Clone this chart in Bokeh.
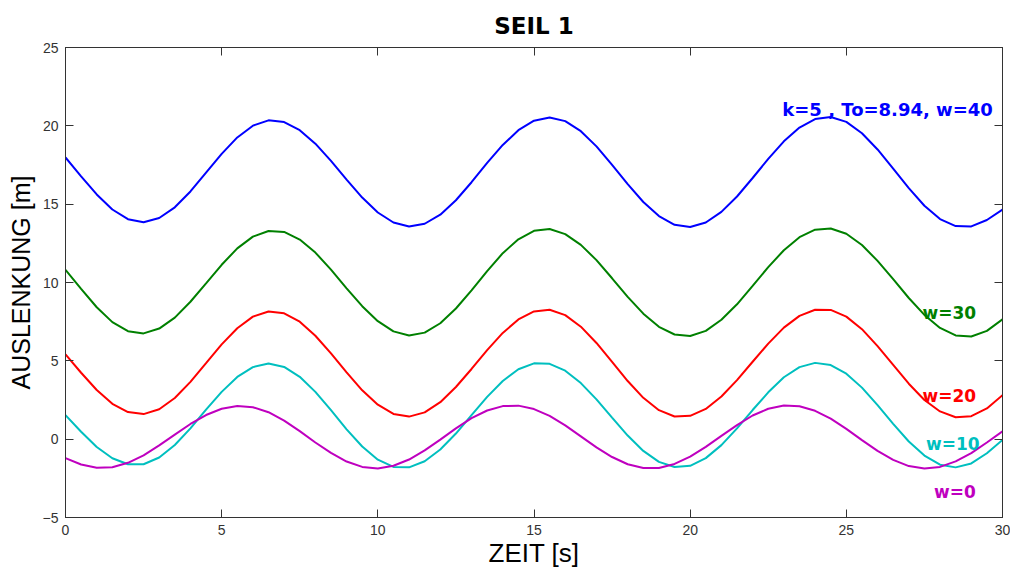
from bokeh.plotting import figure
from bokeh.models import Range1d, LinearAxis, FixedTicker
from bokeh.embed import file_html
from bokeh.resources import INLINE
from bokeh.core.properties import value

# time samples [s]
t = [0.0, 0.5, 1.0, 1.5, 2.0, 2.5, 3.0, 3.5, 4.0, 4.5, 5.0, 5.5, 6.0, 6.5, 7.0, 7.5,
     8.0, 8.5, 9.0, 9.5, 10.0, 10.5, 11.0, 11.5, 12.0, 12.5, 13.0, 13.5, 14.0, 14.5,
     15.0, 15.5, 16.0, 16.5, 17.0, 17.5, 18.0, 18.5, 19.0, 19.5, 20.0, 20.5, 21.0,
     21.5, 22.0, 22.5, 23.0, 23.5, 24.0, 24.5, 25.0, 25.5, 26.0, 26.5, 27.0, 27.5,
     28.0, 28.5, 29.0, 29.5, 30.0]

# displacement [m] per wind case
w40 = [17.98, 16.78, 15.62, 14.66, 14.04, 13.85, 14.12, 14.80, 15.81, 17.01, 18.21,
       19.26, 20.01, 20.35, 20.24, 19.72, 18.86, 17.76, 16.57, 15.42, 14.47, 13.83,
       13.57, 13.75, 14.33, 15.25, 16.40, 17.63, 18.78, 19.72, 20.33, 20.53, 20.30,
       19.66, 18.69, 17.51, 16.28, 15.14, 14.24, 13.68, 13.54, 13.83, 14.51, 15.49,
       16.67, 17.89, 19.01, 19.89, 20.43, 20.56, 20.25, 19.53, 18.49, 17.27, 16.02,
       14.90, 14.05, 13.60, 13.58, 13.99, 14.65]
w30 = [10.81, 9.59, 8.42, 7.47, 6.89, 6.75, 7.06, 7.76, 8.77, 9.94, 11.13, 12.18,
       12.93, 13.29, 13.23, 12.74, 11.91, 10.82, 9.63, 8.49, 7.53, 6.88, 6.62, 6.80,
       7.40, 8.34, 9.50, 10.73, 11.87, 12.76, 13.30, 13.41, 13.09, 12.40, 11.43, 10.27,
       9.08, 8.01, 7.17, 6.68, 6.59, 6.91, 7.62, 8.61, 9.78, 10.98, 12.06, 12.89, 13.37,
       13.45, 13.11, 12.39, 11.38, 10.21, 9.01, 7.93, 7.10, 6.62, 6.55, 6.91, 7.65]
w20 = [5.41, 4.24, 3.14, 2.26, 1.73, 1.60, 1.91, 2.63, 3.66, 4.85, 6.05, 7.08, 7.82,
       8.15, 8.03, 7.50, 6.60, 5.48, 4.26, 3.12, 2.20, 1.61, 1.44, 1.71, 2.36, 3.33,
       4.48, 5.68, 6.78, 7.64, 8.15, 8.26, 7.92, 7.18, 6.14, 4.93, 3.71, 2.64, 1.85,
       1.45, 1.49, 1.93, 2.72, 3.77, 4.94, 6.10, 7.12, 7.87, 8.26, 8.25, 7.82, 7.02,
       5.94, 4.74, 3.54, 2.50, 1.77, 1.40, 1.47, 1.96, 2.81]
w10 = [1.53, 0.47, -0.50, -1.22, -1.60, -1.60, -1.17, -0.37, 0.69, 1.88, 3.02, 3.97,
       4.60, 4.83, 4.61, 3.98, 3.02, 1.85, 0.63, -0.47, -1.31, -1.77, -1.80, -1.41,
       -0.66, 0.36, 1.53, 2.70, 3.71, 4.46, 4.84, 4.81, 4.37, 3.58, 2.54, 1.38, 0.23,
       -0.75, -1.45, -1.78, -1.70, -1.21, -0.38, 0.69, 1.86, 2.99, 3.95, 4.60, 4.87,
       4.73, 4.18, 3.29, 2.17, 0.98, -0.15, -1.05, -1.63, -1.80, -1.55, -0.90, -0.05]
w0 = [-1.21, -1.62, -1.83, -1.79, -1.51, -1.03, -0.40, 0.29, 0.97, 1.54, 1.94, 2.11,
      2.04, 1.72, 1.18, 0.51, -0.21, -0.88, -1.43, -1.77, -1.87, -1.70, -1.30, -0.72,
      -0.03, 0.69, 1.34, 1.83, 2.11, 2.14, 1.92, 1.49, 0.88, 0.18, -0.52, -1.14, -1.60,
      -1.84, -1.84, -1.58, -1.12, -0.49, 0.21, 0.90, 1.51, 1.94, 2.15, 2.10, 1.81, 1.31,
      0.66, -0.06, -0.75, -1.32, -1.72, -1.87, -1.77, -1.42, -0.89, -0.21, 0.50]

x_ticks = [0, 5, 10, 15, 20, 25, 30]
y_ticks = [-5, 0, 5, 10, 15, 20, 25]

series = [w40, w30, w20, w10, w0]
colors = ["#0000FF", "#008000", "#FF0000", "#00BFBF", "#BF00BF"]
labels = ["k=5 , To=8.94, w=40", "w=30", "w=20", "w=10", "w=0"]
label_x = [22.95, 27.44, 27.44, 27.55, 27.81]
label_y = [21.06, 8.06, 2.75, -0.32, -3.39]
label_size = ["18px", "17px", "17px", "17px", "17px"]

AX = "#333333"

p = figure(width=1010, height=570, output_backend="svg", toolbar_location=None,
           x_range=Range1d(0, 30), y_range=Range1d(-5, 25),
           min_border_left=65, min_border_right=8, min_border_top=47,
           min_border_bottom=52, title="SEIL 1")
p.background_fill_color = "white"
p.border_fill_color = "white"
p.outline_line_color = AX
p.xgrid.visible = False
p.ygrid.visible = False

p.title.align = "center"
p.title.text_font = "DejaVu Sans"
p.title.text_font_style = "bold"
p.title.text_font_size = "23px"
p.title.text_color = "black"
p.title.standoff = 18


def style_axis(ax, ticks):
    ax.ticker = FixedTicker(ticks=ticks)
    ax.major_tick_in = 8
    ax.major_tick_out = 0
    ax.minor_tick_in = 0
    ax.minor_tick_out = 0
    ax.axis_line_color = AX
    ax.major_tick_line_color = AX
    ax.axis_line_width = 1
    ax.major_label_text_font = "Liberation Sans"
    ax.major_label_text_font_size = "14px"
    ax.major_label_text_color = "#333333"
    ax.major_label_standoff = 7


def style_mirror(ax, ticks):
    # label-free mirror axis: ticks given as minor ticks only
    ax.ticker = FixedTicker(ticks=[], minor_ticks=ticks)
    ax.major_tick_in = 0
    ax.major_tick_out = 0
    ax.minor_tick_in = 8
    ax.minor_tick_out = 0
    ax.minor_tick_line_color = AX
    ax.minor_tick_line_width = 1
    ax.axis_line_color = AX
    ax.major_label_standoff = 0


style_axis(p.xaxis[0], x_ticks)
style_axis(p.yaxis[0], y_ticks)

for ax, lab in ((p.xaxis[0], "ZEIT [s]"), (p.yaxis[0], "AUSLENKUNG [m]")):
    ax.axis_label = lab
    ax.axis_label_text_font = "Liberation Sans"
    ax.axis_label_text_font_style = "normal"
    ax.axis_label_text_color = "black"
p.xaxis[0].axis_label_text_font_size = "26px"
p.yaxis[0].axis_label_text_font_size = "25px"
p.xaxis[0].axis_label_standoff = 0
p.yaxis[0].axis_label_standoff = 5

top = LinearAxis()
style_mirror(top, x_ticks)
p.add_layout(top, "above")
right = LinearAxis()
style_mirror(right, y_ticks)
p.add_layout(right, "right")

for ys, c in zip(series, colors):
    p.line(t, ys, line_color=c, line_width=2)

for lx, ly, lt, c, fs in zip(label_x, label_y, labels, colors, label_size):
    p.text(x=[lx], y=[ly], text=[lt], text_color=c,
           text_font=value("DejaVu Sans"), text_font_style="bold",
           text_font_size=fs, text_align="left", text_baseline="alphabetic")

open("out.html", "w").write(file_html(p, INLINE))
